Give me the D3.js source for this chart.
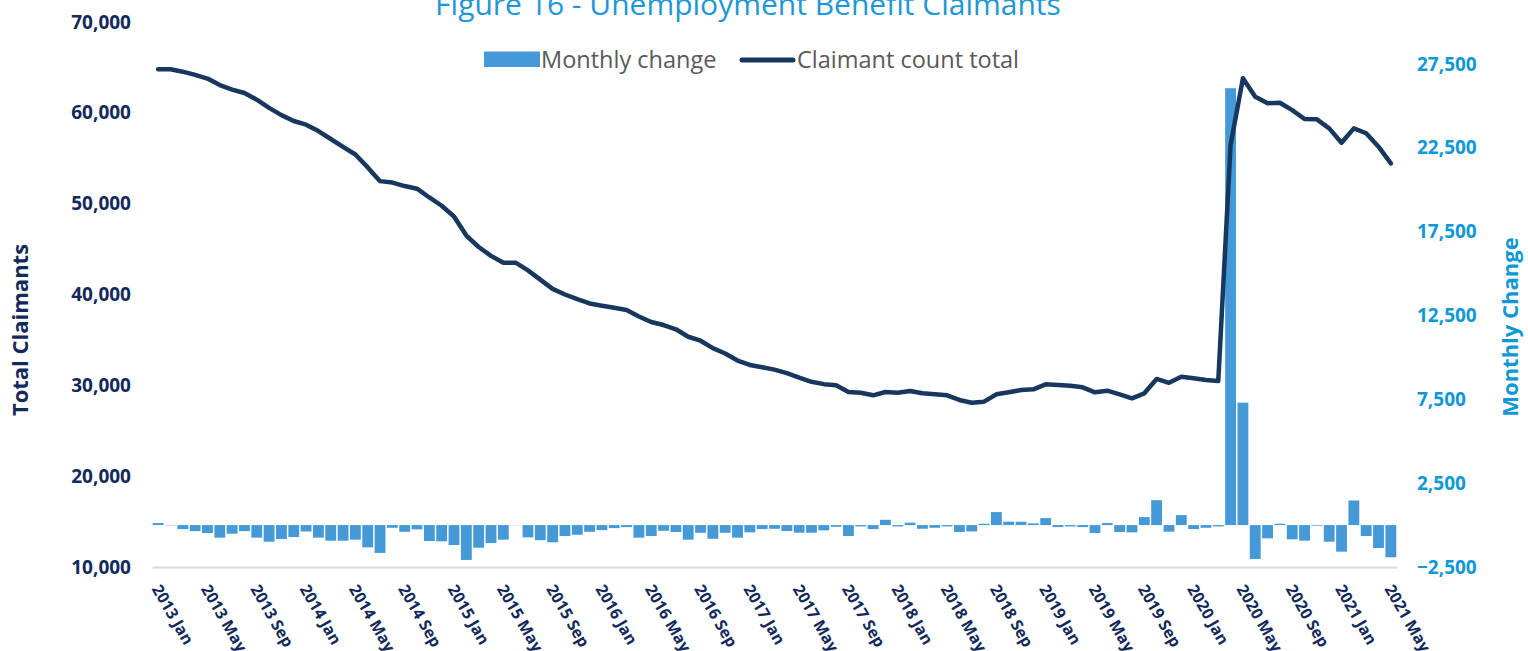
<!DOCTYPE html>
<html>
<head>
<meta charset="utf-8">
<script src="https://cdn.jsdelivr.net/npm/d3@7"></script>
<style>
  body { margin: 0; background: #ffffff; }
  svg { display: block; }
  text { font-family: "Open Sans", "Noto Sans", sans-serif; }
</style>
</head>
<body>
<svg id="chart" width="1528" height="651"></svg>
<script>
// Months on the category axis, January 2013 to May 2021
const months = [
  "2013 Jan","2013 Feb","2013 Mar","2013 Apr","2013 May","2013 Jun","2013 Jul","2013 Aug","2013 Sep","2013 Oct","2013 Nov","2013 Dec",
  "2014 Jan","2014 Feb","2014 Mar","2014 Apr","2014 May","2014 Jun","2014 Jul","2014 Aug","2014 Sep","2014 Oct","2014 Nov","2014 Dec",
  "2015 Jan","2015 Feb","2015 Mar","2015 Apr","2015 May","2015 Jun","2015 Jul","2015 Aug","2015 Sep","2015 Oct","2015 Nov","2015 Dec",
  "2016 Jan","2016 Feb","2016 Mar","2016 Apr","2016 May","2016 Jun","2016 Jul","2016 Aug","2016 Sep","2016 Oct","2016 Nov","2016 Dec",
  "2017 Jan","2017 Feb","2017 Mar","2017 Apr","2017 May","2017 Jun","2017 Jul","2017 Aug","2017 Sep","2017 Oct","2017 Nov","2017 Dec",
  "2018 Jan","2018 Feb","2018 Mar","2018 Apr","2018 May","2018 Jun","2018 Jul","2018 Aug","2018 Sep","2018 Oct","2018 Nov","2018 Dec",
  "2019 Jan","2019 Feb","2019 Mar","2019 Apr","2019 May","2019 Jun","2019 Jul","2019 Aug","2019 Sep","2019 Oct","2019 Nov","2019 Dec",
  "2020 Jan","2020 Feb","2020 Mar","2020 Apr","2020 May","2020 Jun","2020 Jul","2020 Aug","2020 Sep","2020 Oct","2020 Nov","2020 Dec",
  "2021 Jan","2021 Feb","2021 Mar","2021 Apr","2021 May"
];

// Claimant count total (left axis)
const claimantTotal = [
  64790, 64790, 64530, 64180, 63770, 63060, 62560, 62180, 61450, 60540, 59750, 59100,
  58700, 57990, 57120, 56250, 55410, 53990, 52480, 52320, 51940, 51650, 50680, 49770,
  48590, 46490, 45230, 44250, 43500, 43500, 42650, 41640, 40620, 40000, 39480, 39010,
  38760, 38540, 38290, 37580, 36970, 36640, 36170, 35350, 34910, 34090, 33510, 32730,
  32240, 31990, 31730, 31340, 30860, 30390, 30130, 30000, 29260, 29180, 28900, 29270,
  29180, 29370, 29120, 29010, 28900, 28390, 28090, 28200, 29010, 29230, 29480, 29560,
  30110, 30030, 29960, 29780, 29230, 29410, 29010, 28570, 29120, 30700, 30280, 30950,
  30780, 30590, 30470, 56460, 63800, 61770, 61050, 61110, 60300, 59320, 59280, 58290,
  56710, 58290, 57750, 56270, 54440
];

// Monthly change in claimants (right axis)
const monthlyChange = [
   120,   -20,  -240,  -360,  -475,  -750,  -515,  -360,  -750,  -990,  -830,  -710,
  -380,  -750,  -930,  -930,  -870, -1330, -1660,  -160,  -400,  -255,  -950,  -970,
 -1190, -2080, -1350, -1070,  -870,   -10,  -730,  -900, -1030,  -650,  -575,  -400,
  -300,  -180,  -120,  -750,  -650,  -340,  -415,  -870,  -460,  -815,  -460,  -750,
  -435,  -240,  -220,  -355,  -455,  -455,  -315,  -100,  -650,   -80,  -240,   315,
   -80,   140,  -220,  -160,   -80,  -410,  -380,    80,   775,   200,   200,   100,
   415,  -120,   -80,  -120,  -475,   120,  -415,  -435,   475,  1485,  -395,   595,
  -240,  -160,   -80, 26050,  7300, -2020,  -790,    80,  -850,  -930,   -40,  -990,
 -1585,  1465,  -655, -1365, -1920
];

// Labelled months on the category axis
const tickLabels = [
  "2013 Jan","2013 May","2013 Sep","2014 Jan","2014 May","2014 Sep","2015 Jan","2015 May","2015 Sep",
  "2016 Jan","2016 May","2016 Sep","2017 Jan","2017 May","2017 Sep","2018 Jan","2018 May","2018 Sep",
  "2019 Jan","2019 May","2019 Sep","2020 Jan","2020 May","2020 Sep","2021 Jan","2021 May"
];
const leftTicks = [10000, 20000, 30000, 40000, 50000, 60000, 70000];
const rightTicks = [-2500, 2500, 7500, 12500, 17500, 22500, 27500];

const navy = "#13295b";
const cyan = "#0f98d7";
const barBlue = "#4499d6";
const lineNavy = "#17375e";

const svg = d3.select("#chart");

const x = d3.scaleBand()
  .domain(months)
  .range([152, 1397])
  .paddingInner(0.12)
  .paddingOuter(0.06);

const yLeft = d3.scaleLinear().domain([10000, 70000]).range([567, 22]);
const yRight = d3.scaleLinear().domain([-2500, 30000]).range([567, 22]);

// Monthly change bars
svg.append("g")
  .selectAll("rect")
  .data(monthlyChange)
  .join("rect")
  .attr("x", (d, i) => x(months[i]))
  .attr("width", x.bandwidth())
  .attr("y", d => yRight(Math.max(0, d)))
  .attr("height", d => Math.abs(yRight(d) - yRight(0)))
  .attr("fill", barBlue);

// Category axis along the bottom
const xAxis = svg.append("g")
  .attr("transform", "translate(0,567)")
  .call(d3.axisBottom(x).tickValues(tickLabels).tickSize(0).tickSizeOuter(0));
xAxis.select(".domain").attr("stroke", "#d9d9d9").attr("stroke-width", 2);
xAxis.selectAll("text")
  .attr("x", 0).attr("y", 0).attr("dy", "0.71em")
  .attr("transform", "translate(3,16) rotate(60)")
  .attr("text-anchor", "start")
  .attr("fill", navy)
  .style("font-size", "16px")
  .style("font-weight", "700");

// Left value axis
const leftAxis = svg.append("g")
  .attr("transform", "translate(152,0)")
  .call(d3.axisLeft(yLeft).tickValues(leftTicks).tickFormat(d3.format(",")).tickSize(0).tickPadding(21));
leftAxis.select(".domain").remove();
leftAxis.selectAll("text")
  .attr("fill", navy)
  .style("font-size", "19px")
  .style("font-weight", "700");

// Right value axis
const rightAxis = svg.append("g")
  .attr("transform", "translate(1397,0)")
  .call(d3.axisRight(yRight).tickValues(rightTicks).tickFormat(d3.format(",")).tickSize(0).tickPadding(20));
rightAxis.select(".domain").remove();
rightAxis.selectAll("text")
  .attr("fill", cyan)
  .style("font-size", "19px")
  .style("font-weight", "700");

// Claimant count total line
const line = d3.line()
  .x((d, i) => x(months[i]) + x.bandwidth() / 2)
  .y(d => yLeft(d));
svg.append("path")
  .datum(claimantTotal)
  .attr("d", line)
  .attr("fill", "none")
  .attr("stroke", lineNavy)
  .attr("stroke-width", 4.5)
  .attr("stroke-linejoin", "round")
  .attr("stroke-linecap", "round");

// Title
svg.append("text")
  .attr("x", 748).attr("y", 15)
  .attr("text-anchor", "middle")
  .attr("fill", "#1d97d7")
  .style("font-size", "30px")
  .text("Figure 16 - Unemployment Benefit Claimants");

// Legend
const legend = svg.append("g");
legend.append("rect")
  .attr("x", 484).attr("y", 51.5).attr("width", 56).attr("height", 15.5)
  .attr("fill", barBlue);
legend.append("text")
  .attr("x", 541).attr("y", 68)
  .attr("fill", "#595959")
  .style("font-size", "23.5px")
  .text("Monthly change");
legend.append("line")
  .attr("x1", 742).attr("x2", 793).attr("y1", 60).attr("y2", 60)
  .attr("stroke", lineNavy).attr("stroke-width", 5).attr("stroke-linecap", "round");
legend.append("text")
  .attr("x", 797).attr("y", 68)
  .attr("fill", "#595959")
  .style("font-size", "23.5px")
  .text("Claimant count total");

// Axis titles
svg.append("text")
  .attr("transform", "translate(28,330) rotate(-90)")
  .attr("text-anchor", "middle")
  .attr("fill", navy)
  .style("font-size", "22px")
  .style("font-weight", "700")
  .text("Total Claimants");
svg.append("text")
  .attr("transform", "translate(1518,327) rotate(-90)")
  .attr("text-anchor", "middle")
  .attr("fill", cyan)
  .style("font-size", "22px")
  .style("font-weight", "700")
  .text("Monthly Change");
</script>
</body>
</html>
